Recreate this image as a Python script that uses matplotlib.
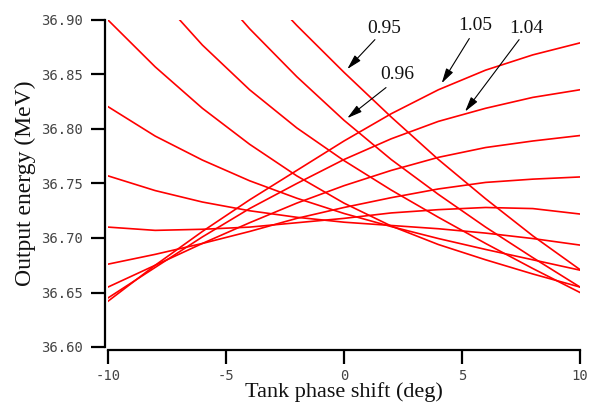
import matplotlib
matplotlib.use("Agg")
import matplotlib.pyplot as plt

plt.rcParams['axes.unicode_minus'] = False

# Tank phase shift (deg)
phase = [-10, -8, -6, -4, -2, 0, 2, 4, 6, 8, 10]

# Output energy (MeV) for each amplitude factor
e095 = [37.096, 37.041, 36.989, 36.941, 36.895, 36.852, 36.811, 36.772, 36.736, 36.702, 36.671]
e096 = [37.054, 36.996, 36.941, 36.892, 36.848, 36.808, 36.772, 36.740, 36.710, 36.682, 36.655]
e097 = [36.980, 36.925, 36.877, 36.836, 36.801, 36.771, 36.744, 36.719, 36.695, 36.672, 36.650]
e098 = [36.900, 36.857, 36.819, 36.786, 36.757, 36.732, 36.711, 36.694, 36.680, 36.667, 36.655]
e099 = [36.8205, 36.7935, 36.7715, 36.7525, 36.7365, 36.7225, 36.7105, 36.6995, 36.6895, 36.680, 36.6705]
e100 = [36.757, 36.7435, 36.733, 36.725, 36.719, 36.7145, 36.7115, 36.7085, 36.7045, 36.6995, 36.6935]
e101 = [36.710, 36.707, 36.708, 36.710, 36.714, 36.718, 36.723, 36.726, 36.728, 36.727, 36.722]
e102 = [36.676, 36.685, 36.695, 36.706, 36.718, 36.728, 36.737, 36.745, 36.751, 36.754, 36.756]
e103 = [36.655, 36.675, 36.695, 36.714, 36.732, 36.748, 36.762, 36.774, 36.783, 36.789, 36.794]
e104 = [36.645, 36.673, 36.701, 36.727, 36.750, 36.772, 36.791, 36.807, 36.819, 36.829, 36.836]
e105 = [36.642, 36.675, 36.706, 36.735, 36.762, 36.789, 36.814, 36.836, 36.854, 36.868, 36.879]

series = [e095, e096, e097, e098, e099, e100, e101, e102, e103, e104, e105]

# labelled curves: text, text position, arrow start, arrow tip
labels = ["0.95", "0.96", "1.05", "1.04"]
label_pos = [(1.69, 36.892), (2.25, 36.850), (5.55, 36.8945), (7.71, 36.892)]
arrow_start = [(1.31, 36.882), (1.78, 36.838), (5.31, 36.883), (7.42, 36.882)]
arrow_tip = [(0.14, 36.855), (0.14, 36.810), (4.14, 36.842), (5.13, 36.816)]

xticks = [-10, -5, 0, 5, 10]
yticks = [36.60, 36.65, 36.70, 36.75, 36.80, 36.85, 36.90]

fig = plt.figure(figsize=(5.90, 4.03), dpi=100)
ax = fig.add_axes([108 / 590, 56 / 403, 472 / 590, 327 / 403])

for s in series:
    ax.plot(phase, s, color='#ff0000', lw=1.2, solid_joinstyle='round')

ax.set_xlim(-10, 10)
ax.set_ylim(36.60, 36.90)

serif = ['Liberation Serif', 'DejaVu Serif']
for t, p, a0, a1 in zip(labels, label_pos, arrow_start, arrow_tip):
    ax.text(p[0], p[1], t, ha='center', va='center', fontsize=14, family=serif, color='#111111')
    ax.annotate('', xy=a1, xytext=a0,
                arrowprops=dict(arrowstyle='-|>,head_length=0.75,head_width=0.2',
                                color='black', lw=0.8,
                                mutation_scale=12, shrinkA=0, shrinkB=0))

for sp in ['top', 'right']:
    ax.spines[sp].set_visible(False)
for sp in ['left', 'bottom']:
    ax.spines[sp].set_linewidth(1.6)
ax.spines['left'].set_position(('outward', 2))
ax.spines['bottom'].set_position(('outward', 2))

ax.set_xticks(xticks)
ax.set_xticklabels([str(v) for v in xticks])
ax.set_yticks(yticks)
ax.set_yticklabels(['%.2f' % v for v in yticks])
ax.tick_params(axis='both', direction='out', length=10, width=1.6,
               labelsize=10, labelcolor='#444444', pad=6)
ax.tick_params(axis='x', pad=4)
for lab in ax.get_xticklabels() + ax.get_yticklabels():
    lab.set_family('DejaVu Sans Mono')

ax.set_xlabel('Tank phase shift (deg)', family=serif, fontsize=16, labelpad=-0.5, color='#111111')
ax.set_ylabel('Output energy (MeV)', family=serif, fontsize=17, labelpad=4, color='#111111')

fig.savefig('out.png', dpi=100)
